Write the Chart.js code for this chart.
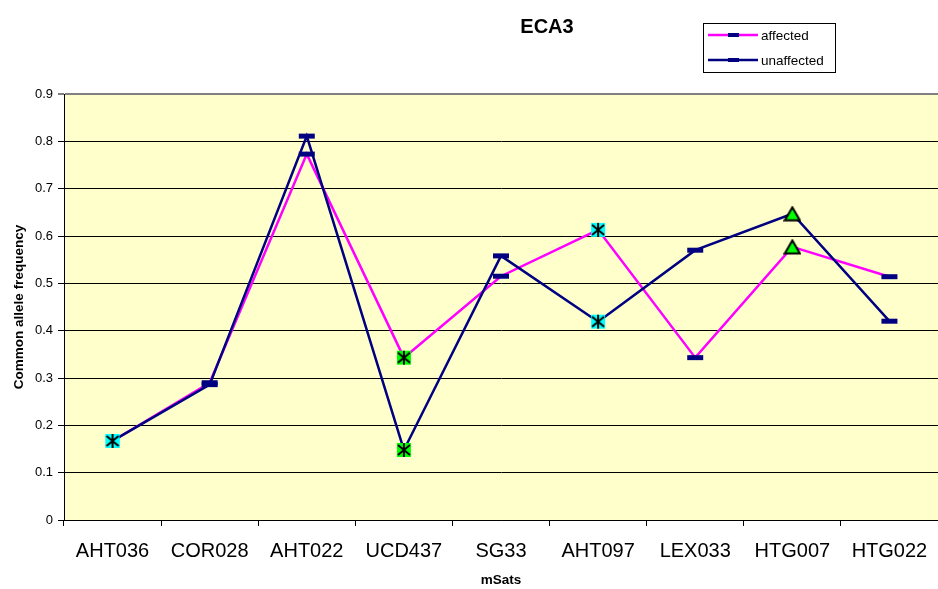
<!DOCTYPE html>
<html>
<head>
<meta charset="utf-8">
<script src="https://cdn.jsdelivr.net/npm/chart.js@4"></script>
<style>
    html, body { margin: 0; padding: 0; background: #fff; overflow: hidden; }
    canvas { display: block; }
</style>
</head>
<body>
<canvas id="alleleChart" width="938" height="589"></canvas>
<script>
// chart data
const categories = ['AHT036', 'COR028', 'AHT022', 'UCD437', 'SG33', 'AHT097', 'LEX033', 'HTG007', 'HTG022'];
const affected = [0.167, 0.290, 0.773, 0.343, 0.515, 0.613, 0.343, 0.577, 0.514];
const unaffected = [0.167, 0.286, 0.811, 0.148, 0.558, 0.419, 0.570, 0.647, 0.420];
const yTickLabels = ['0', '0.1', '0.2', '0.3', '0.4', '0.5', '0.6', '0.7', '0.8', '0.9'];

// marker kind per category (same for both series)
const markerKinds = ['cyanStar', 'dash', 'dash', 'greenStar', 'dash', 'cyanStar', 'dash', 'greenTriangle', 'dash'];

const FONT = "'Liberation Sans', Arial, sans-serif";
const NAVY = '#000080';
const MAGENTA = '#FF00FF';

function starMarker(fill) {
    const c = document.createElement('canvas');
    c.width = 16; c.height = 16;
    const ctx = c.getContext('2d');
    ctx.fillStyle = fill;
    ctx.fillRect(1, 1, 14, 14);
    ctx.strokeStyle = '#000';
    ctx.lineWidth = 2;
    ctx.beginPath();
    ctx.moveTo(8, 1); ctx.lineTo(8, 15);
    ctx.moveTo(2, 3); ctx.lineTo(14, 13);
    ctx.moveTo(14, 3); ctx.lineTo(2, 13);
    ctx.stroke();
    return c;
}

function triangleMarker() {
    const c = document.createElement('canvas');
    c.width = 18; c.height = 16;
    const ctx = c.getContext('2d');
    ctx.fillStyle = '#00FF00';
    ctx.strokeStyle = '#000';
    ctx.lineWidth = 2;
    ctx.beginPath();
    ctx.moveTo(9, 1.5);
    ctx.lineTo(16.5, 14.5);
    ctx.lineTo(1.5, 14.5);
    ctx.closePath();
    ctx.fill();
    ctx.stroke();
    return c;
}

const markerImages = {
    cyanStar: starMarker('#00FFFF'),
    greenStar: starMarker('#00FF00'),
    greenTriangle: triangleMarker()
};
const pointStyles = markerKinds.map(k => markerImages[k] || 'line');

// plot area background + title + legend
const decorations = {
    id: 'decorations',
    beforeDraw(chart) {
        const { ctx, chartArea: a } = chart;
        ctx.save();
        ctx.fillStyle = '#FFFFCC';
        ctx.fillRect(a.left, a.top, a.right - a.left, a.bottom - a.top);
        ctx.restore();
    },
    afterDraw(chart) {
        const ctx = chart.ctx;
        ctx.save();
        // title
        ctx.fillStyle = '#000';
        ctx.font = 'bold 20px ' + FONT;
        ctx.textAlign = 'center';
        ctx.textBaseline = 'middle';
        ctx.fillText('ECA3', 547, 27);

        // legend box
        ctx.fillStyle = '#fff';
        ctx.fillRect(703, 23, 132, 49);
        ctx.strokeStyle = '#000';
        ctx.lineWidth = 1;
        ctx.strokeRect(703.5, 23.5, 132, 49);

        ctx.font = '13.5px ' + FONT;
        ctx.textAlign = 'left';
        chart.data.datasets.forEach((ds, i) => {
            const y = 35 + i * 25;
            ctx.strokeStyle = ds.borderColor;
            ctx.lineWidth = 2.5;
            ctx.beginPath();
            ctx.moveTo(708, y);
            ctx.lineTo(758, y);
            ctx.stroke();
            ctx.fillStyle = NAVY;
            ctx.fillRect(728, y - 2, 11, 4);
            ctx.fillStyle = '#000';
            ctx.fillText(ds.label, 761, y + 1);
        });
        ctx.restore();
    }
};

new Chart(document.getElementById('alleleChart'), {
    type: 'line',
    data: {
        labels: categories,
        datasets: [
            {
                label: 'affected',
                data: affected,
                borderColor: MAGENTA,
                borderWidth: 2.5,
                pointStyle: pointStyles,
                pointRadius: 8,
                pointBorderColor: NAVY,
                pointBackgroundColor: NAVY,
                pointBorderWidth: 5,
                tension: 0,
                order: 2
            },
            {
                label: 'unaffected',
                data: unaffected,
                borderColor: NAVY,
                borderWidth: 2.5,
                pointStyle: pointStyles,
                pointRadius: 8,
                pointBorderColor: NAVY,
                pointBackgroundColor: NAVY,
                pointBorderWidth: 5,
                tension: 0,
                order: 1
            }
        ]
    },
    options: {
        responsive: false,
        animation: false,
        events: [],
        layout: {
            autoPadding: false,
            padding: { top: 94, right: 0, left: 0, bottom: 0 }
        },
        plugins: {
            legend: { display: false },
            tooltip: { enabled: false }
        },
        scales: {
            x: {
                offset: true,
                afterFit: scale => {
                    scale.height = 69;
                    scale.paddingLeft = 0;
                    scale.paddingRight = 0;
                },
                border: { color: '#000', width: 1 },
                grid: {
                    offset: true,
                    drawOnChartArea: false,
                    drawTicks: true,
                    tickLength: 6,
                    color: '#000'
                },
                ticks: {
                    color: '#000',
                    font: { family: FONT, size: 20 },
                    padding: 13,
                    maxRotation: 0,
                    autoSkip: false
                },
                title: {
                    display: true,
                    text: 'mSats',
                    color: '#000',
                    font: { family: FONT, size: 13.5, weight: 'bold' },
                    padding: { top: 0, bottom: 1 }
                }
            },
            y: {
                min: 0,
                max: 0.9,
                afterFit: scale => { scale.width = 64; },
                border: { color: '#000', width: 1 },
                grid: {
                    drawTicks: true,
                    tickLength: 6,
                    color: ctx => ctx.tick && ctx.tick.value > 0.85 ? '#808080' : '#000',
                    lineWidth: ctx => ctx.tick && ctx.tick.value > 0.85 ? 2 : 1
                },
                ticks: {
                    stepSize: 0.1,
                    color: '#000',
                    font: { family: FONT, size: 13 },
                    padding: 5,
                    callback: (value, index) => yTickLabels[index]
                },
                title: {
                    display: true,
                    text: 'Common allele frequency',
                    color: '#000',
                    font: { family: FONT, size: 13.5, weight: 'bold' },
                    padding: { top: 11, bottom: 0 }
                }
            }
        }
    },
    plugins: [decorations]
});
</script>
</body>
</html>
